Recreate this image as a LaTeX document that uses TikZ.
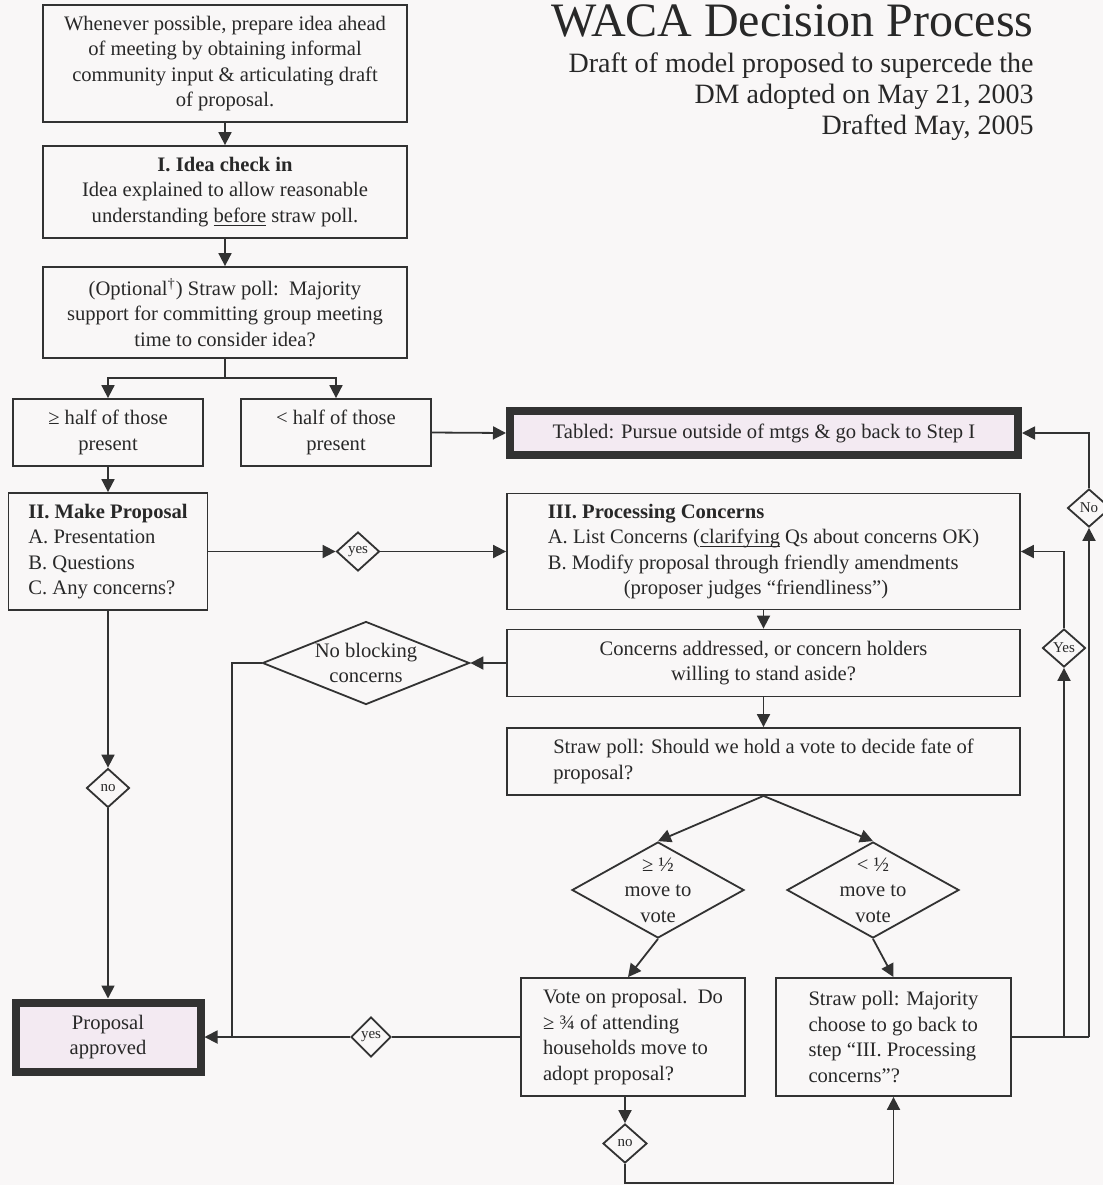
\documentclass[tikz,border=0pt]{standalone}
\usepackage{fontspec}
\setmainfont{Liberation Serif}
\usetikzlibrary{shapes.geometric,arrows.meta,calc}
\definecolor{ink}{RGB}{40,40,40}
\definecolor{linec}{RGB}{50,50,50}
\definecolor{paper}{RGB}{249,247,247}
\definecolor{pinkfill}{RGB}{243,234,242}
\newcommand\myul[1]{\underline{\smash{#1}}}
\begin{document}
\begin{tikzpicture}[x=0.5pt,y=-0.5pt,
  every node/.style={text=ink, font=\fontsize{10.3}{12.7}\selectfont},
  box/.style={draw=linec, line width=0.9pt, rectangle, inner sep=0pt},
  bigbox/.style={draw=linec, line width=4pt, fill=pinkfill, rectangle, inner sep=0pt},
  dia/.style={draw=linec, line width=0.9pt, diamond, inner sep=0pt},
  smalltxt/.style={inner sep=0pt, font=\fontsize{7.5}{8.5}\selectfont},
  diatxt/.style={inner sep=0pt, align=center},
  conn/.style={draw=linec, line width=0.9pt},
  arr/.style={conn, -{Triangle[length=6.5pt,width=6.5pt]}},
  ttl/.style={inner sep=0pt, anchor=base east}
]
\fill[paper] (0,0) rectangle (1103,1185);
\useasboundingbox (0,0) rectangle (1103,1185);
\clip (0,0) rectangle (1103,1185);

% titles
\node[ttl, font=\fontsize{24}{28}\selectfont] (title) at (1034,36) {WACA Decision Process};
\node[ttl, font=\fontsize{14}{16}\selectfont] (sub1) at (1034,72) {Draft of model proposed to supercede the};
\node[ttl, font=\fontsize{14}{16}\selectfont] (sub2) at (1034,103) {DM adopted on May 21, 2003};
\node[ttl, font=\fontsize{14}{16}\selectfont] (sub3) at (1034,134) {Drafted May, 2005};

% boxes
\node[box, minimum width=182pt, minimum height=58.5pt, align=center] (b1) at (225,63.5)
  {Whenever possible, prepare idea ahead\\of meeting by obtaining informal\\community input \& articulating draft\\of proposal.};
\node[box, minimum width=182pt, minimum height=46pt, align=center] (b2) at (225,192)
  {\textbf{I. Idea check in}\\Idea explained to allow reasonable\\understanding \myul{before} straw poll.};
\node[box, minimum width=182pt, minimum height=45.5pt, align=center] (b3) at (225,312.5)
  {(Optional\textsuperscript{†}) Straw poll:\ \ Majority\\support for committing group meeting\\time to consider idea?};
\node[box, minimum width=95pt, minimum height=33.5pt, align=center] (b4) at (108,432.5)
  {≥ half of those\\present};
\node[box, minimum width=95pt, minimum height=33.5pt, align=center] (b5) at (336,432.5)
  {< half of those\\present};
\node[bigbox, minimum width=254pt, minimum height=22pt] (tabled) at (764,433)
  {Tabled: Pursue outside of mtgs \& go back to Step I};
\node[box, minimum width=99.5pt, minimum height=58.5pt, align=left] (b6) at (108,551.5)
  {\textbf{II. Make Proposal}\\A. Presentation\\B. Questions\\C. Any concerns?};
\node[box, minimum width=256.5pt, minimum height=58pt, align=left] (b7) at (763.5,551.5)
  {\textbf{III. Processing Concerns}\\A. List Concerns (\myul{clarifying} Qs about concerns OK)\\B. Modify proposal through friendly amendments\\\hspace*{38pt}(proposer judges “friendliness”)};
\node[box, minimum width=256.5pt, minimum height=33.5pt, align=center] (b8) at (763.5,663)
  {Concerns addressed, or concern holders\\willing to stand aside?};
\node[box, minimum width=256.5pt, minimum height=33.5pt, align=left] (b9) at (763.5,761.5)
  {Straw poll: Should we hold a vote to decide fate of\\proposal?};
\node[box, minimum width=112pt, minimum height=59pt, align=left] (b10) at (633,1037)
  {Vote on proposal.\ \ Do\\≥ ¾ of attending\\households move to\\adopt proposal?};
\node[box, minimum width=117.5pt, minimum height=59pt, align=left] (b11) at (893.5,1037)
  {Straw poll: Majority\\choose to go back to\\step “III. Processing\\concerns”?};
\node[bigbox, minimum width=92.5pt, minimum height=34.5pt, align=center] (b12) at (108,1037)
  {Proposal\\approved};

% diamonds
\node[dia, minimum width=21.5pt, minimum height=19.5pt] (dy1) at (358,551.5) {};
\node[smalltxt] (dy1t) at (dy1.center) {yes};
\node[dia, minimum width=21.5pt, minimum height=19.5pt] (dn1) at (108,788) {};
\node[smalltxt] (dn1t) at (dn1.center) {no};
\node[dia, minimum width=103.5pt, minimum height=41.5pt] (dnb) at (366,663) {};
\node[diatxt] (dnbt) at (dnb.center) {No blocking\\concerns};
\node[dia, minimum width=86pt, minimum height=48pt] (dge) at (658,890) {};
\node[diatxt] (dget) at (dge.center) {≥ ½\\move to\\vote};
\node[dia, minimum width=86pt, minimum height=48pt] (dlt) at (873,890) {};
\node[diatxt] (dltt) at (dlt.center) {< ½\\move to\\vote};
\node[dia, minimum width=20pt, minimum height=20pt] (dy2) at (371,1037) {};
\node[smalltxt] (dy2t) at (dy2.center) {yes};
\node[dia, minimum width=22pt, minimum height=19.5pt] (dn2) at (625,1143.5) {};
\node[smalltxt] (dn2t) at (dn2.center) {no};
\node[dia, minimum width=21.5pt, minimum height=19pt] (dY) at (1064,648) {};
\node[smalltxt] (dYt) at (dY.center) {Yes};
\node[dia, minimum width=21.5pt, minimum height=19pt] (dN) at (1089,508) {};
\node[smalltxt] (dNt) at (dN.center) {No};

% connectors
\draw[arr] (b1.south) -- (b2.north);
\draw[arr] (b2.south) -- (b3.north);
\coordinate (sp1) at (225,378);
\draw[conn] (b3.south) -- (sp1);
\draw[arr] (sp1) -| (b4.north);
\draw[arr] (sp1) -| (b5.north);
\draw[arr] (b4.south) -- (b6.north);
\draw[arr] (b5.east) -- (tabled.west);
\draw[arr] (b6.east) -- (dy1.west);
\draw[arr] (dy1.east) -- (b7.west);
\draw[arr] (b6.south) -- (dn1.north);
\draw[arr] (dn1.south) -- (b12.north);
\draw[arr] (b7.south) -- (b8.north);
\draw[arr] (b8.west) -- (dnb.east);
\coordinate (j1) at (232,1037);
\draw[conn] (dnb.west) -| (j1);
\draw[conn] (b10.west) -- (dy2.east);
\draw[arr] (dy2.west) -- (b12.east);
\draw[arr] (b8.south) -- (b9.north);
\draw[arr] (b9.south) -- (dge.north);
\draw[arr] (b9.south) -- (dlt.north);
\draw[arr] (dge.south) -- ([xshift=-2.5pt]b10.north);
\draw[arr] (dlt.south) -- (b11.north);
\draw[arr] (b10.south -| dn2) -- (dn2.north);
\coordinate (c1) at (625,1183);
\coordinate (c2) at (893.5,1183);
\draw[arr] (dn2.south) -- (c1) -- (c2) -- (b11.south);
\coordinate (r1) at (1064,1037);
\coordinate (r2) at (1089,1037);
\draw[conn] (b11.east) -- (r2);
\draw[arr] (r1) -- (dY.south);
\draw[arr] (dY.north) |- (b7.east);
\draw[arr] (r2) -- (dN.south);
\draw[arr] (dN.north) |- (tabled.east);
\end{tikzpicture}
\end{document}
